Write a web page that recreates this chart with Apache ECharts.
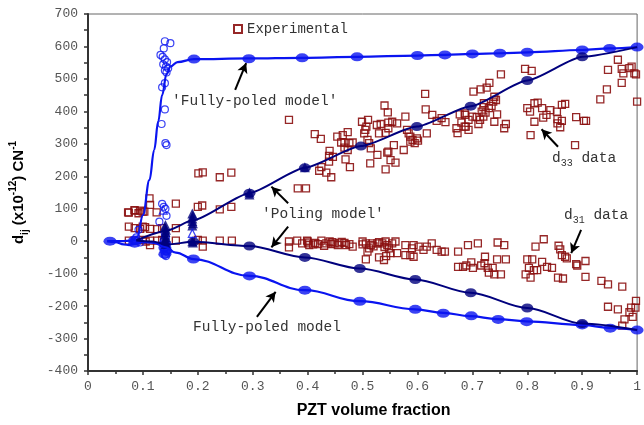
<!DOCTYPE html>
<html>
<head>
<meta charset="utf-8">
<script src="https://cdn.jsdelivr.net/npm/echarts@6/dist/echarts.min.js"></script>
<style>html,body{margin:0;padding:0;background:#fff;}#c{width:644px;height:425px;}</style>
</head>
<body>
<div id="c"></div>
<script>
// ---------- DATA ----------
// Experimental points [PZT volume fraction, d_ij]
const expLow = [[.073,89],[.085,94],[.092,86],[.0996,91],[.1026,91],[.0947,94],[.0847,96],[.0744,88],[.112,132],[.113,112],[.125,89],[.16,116],[.2,106],[.208,110],[.24,98],[.261,106],[.201,209],[.209,212],[.24,197],[.261,211],
[.0744,45],[.085,40],[.0996,45],[.095,38],[.104,43],[.113,38],[.126,37],[.135,40],[.16,40],
[.0744,2],[.085,2],[.0996,4],[.113,2],[.105,-1],[.113,-12],[.126,2],[.135,4],[.16,2],[.2,4],[.209,2],[.209,-17],[.24,2],[.262,2],[.366,-1],[.366,-19],[.381,2],[.399,2],[.401,-7],[.382,163],[.397,163],[.366,374]];
const expD33 = [[.614,454],[.54,418],[.546,397],[.615,406],[.627,389],[.635,371],[.644,379],[.651,367],[.677,391],[.686,394],[.671,348],[.673,333],[.68,365],[.688,353],
[.413,330],[.424,315],[.454,322],[.464,327],[.473,336],[.461,304],[.467,304],[.476,302],[.482,304],[.467,288],[.473,281],
[.44,278],[.439,263],[.425,228],[.421,217],[.434,211],[.443,197],[.439,245],[.469,252],[.477,228],[.446,260],
[.499,368],[.51,374],[.507,353],[.505,343],[.503,332],[.509,312],[.512,302],
[.526,358],[.533,361],[.547,365],[.554,368],[.563,363],[.53,332],[.542,334],[.547,348],
[.515,286],[.527,266],[.545,273],[.547,276],[.551,250],[.56,242],[.542,221],[.514,240],
[.557,296],[.575,281],
[.578,384],[.581,343],[.584,332],[.587,322],[.591,312],[.599,317],[.595,302],[.587,307],[.601,310],[.617,332],
[.752,514],[.796,531],[.808,525],[.731,488],[.726,473],[.715,468],[.702,461],
[.74,445],[.743,435],[.738,430],[.735,417],[.73,410],[.721,425],[.72,413],[.717,399],[.724,396],[.72,384],[.714,374],[.711,361],[.708,382],[.7,384],[.693,374],[.687,389],[.686,353],[.693,343],[.74,368],[.745,391],[.761,361],[.758,348],
[.80,410],[.805,399],[.813,425],[.819,427],[.827,410],[.842,404],[.854,399],[.835,389],[.829,381],[.813,368],[.806,327],[.863,420],[.869,423],[.855,376],[.863,371],[.855,363],[.86,351],[.889,382],[.903,371],[.907,371],[.887,296],
[.933,437],[.945,468],[.947,528],[.965,559],[.972,531],[.975,517],[.972,488],[.986,533],[.99,538],[.995,517],[.998,514],[1.0,430]];
const expD31 = [[.39,-7],[.40,-1],[.403,-12],[.414,-5],[.419,-9],[.425,2],[.434,-7],[.44,-1],[.443,-9],[.449,-7],[.458,-7],[.467,-5],[.47,-12],[.476,-9],[.482,-17],[.41,-10],[.43,-14],[.445,-3],[.455,-12],[.462,-2],
[.50,-1],[.506,-7],[.515,-12],[.512,-22],[.509,-32],[.518,-7],[.527,-7],[.536,-7],[.542,-1],[.545,-12],[.548,-22],[.554,-7],[.56,-1],[.563,-37],[.551,-37],[.543,-46],[.53,-50],[.539,-58],[.506,-56],[.52,-16],[.53,-3],[.54,-18],[.5,-10],
[.578,-12],[.593,-12],[.59,-22],[.578,-43],[.587,-43],[.593,-48],[.602,-17],[.611,-27],[.617,-17],[.626,-7],[.635,-27],[.644,-32],[.65,-32],[.674,-32],[.692,-12],[.71,-7],
[.698,-65],[.674,-79],[.683,-79],[.689,-75],[.701,-82],[.716,-75],[.723,-48],[.722,-68],[.728,-82],[.737,-82],[.745,-56],[.746,-4],[.758,-12],[.761,-56],[.73,-97],[.74,-102],[.752,-102],
[.80,-56],[.809,-56],[.803,-82],[.812,-89],[.818,-89],[.827,-64],[.836,-79],[.845,-82],[.797,-102],[.806,-112],[.815,-17],[.83,6],[.857,-14],[.86,-25],[.863,-43],[.869,-48],[.872,-53],[.856,-112],[.865,-115],
[.889,-71],[.891,-75],[.906,-61],[.906,-110],[.935,-122],[.947,-133],[.973,-140],[.998,-184],[.997,-205],[.989,-205],[.947,-202],[.965,-210],[.986,-219],[.992,-233],[.977,-241],[.973,-260]];

// Fully-poled model (blue)
const fpD33Curve = [[.035,0],[.06,0],[.08,2],[.09,15],[.1,80],[.112,189],[.1205,281],[.128,370],[.135,450],[.143,515],[.15,538],[.163,552],[.193,561],[.293,563],[.39,565],[.49,568],[.6,572],[.65,574],[.7,577],[.75,579],[.8,582],[.9,589],[.95,594],[1.0,598]];
const fpD31Curve = [[.035,0],[.05,-3],[.065,-10],[.075,-12],[.085,-8],[.1,-3],[.12,-5],[.14,-18],[.16,-35],[.192,-55],[.294,-107],[.395,-151],[.495,-185],[.596,-210],[.647,-221],[.696,-231],[.745,-240],[.798,-247],[.899,-258],[.949,-267],[1.0,-274]];
const fpD33Marks = [[.04,0],[.085,3],[.193,561],[.293,562],[.39,565],[.49,568],[.6,572],[.65,574],[.7,577],[.75,579],[.8,582],[.9,589],[.95,594],[1.0,598]];
const fpD31Marks = [[.085,-6],[.14,-8],[.14,-20],[.142,-30],[.14,-40],[.192,-55],[.294,-107],[.395,-151],[.495,-185],[.596,-210],[.647,-222],[.698,-230],[.747,-241],[.799,-248],[.9,-258],[.951,-268],[1.0,-274]];
const fpCircles = [[.14,616],[.15,610],[.138,594],[.132,574],[.136,568],[.14,560],[.144,552],[.137,545],[.142,538],[.146,533],[.14,526],[.143,520],[.14,487],[.135,474],[.14,406],[.134,361],[.141,302],[.143,296],
[.135,115],[.138,106],[.141,100],[.143,78],[.13,60],[.092,35],[.088,12],[.085,5],[.095,-4],
[.14,22],[.142,12],[.138,2],[.141,-10],[.139,-22],[.143,-32],[.14,-42],[.142,-46]];

// Poling model (navy)
const polD33Curve = [[.088,3],[.144,33],[.192,65],[.294,148],[.395,226],[.497,293],[.599,353],[.697,416],[.8,495],[.9,568],[1.0,598]];
const polD31Curve = [[.088,2],[.117,-1],[.144,-10],[.192,-2],[.294,-15],[.395,-50],[.495,-84],[.596,-118],[.697,-159],[.8,-206],[.9,-254],[1.0,-274]];
const polD33Marks = [[.294,148],[.395,226],[.497,293],[.599,353],[.697,416],[.8,495],[.9,568]];
const polD31Marks = [[.192,-2],[.294,-15],[.395,-50],[.495,-84],[.596,-118],[.697,-159],[.8,-206],[.9,-254]];
const polTriangles = [[.141,50],[.14,42],[.142,35],[.141,28],[.14,20],[.142,12],[.141,5],[.14,-2],[.142,-8],
[.19,85],[.191,78],[.19,70],[.19,62],[.191,55],[.19,48],[.19,0],[.191,-4],[.294,150],[.294,144],[.395,228]];
const openTriangles = [[.19,24],[.137,96]];

// ---------- CHART ----------
const mono = '"Liberation Mono","DejaVu Sans Mono",monospace';
const sans = '"Liberation Sans",Arial,sans-serif';
const BLUE = '#0a14f0', NAVY = '#00007d', RED = '#8b0f0f';

const chart = echarts.init(document.getElementById('c'), null, {renderer:'canvas'});
const arrows = [
  [[.268,466],[.288,549]],
  [[.3645,117],[.334,168]],
  [[.3645,45],[.334,-19]],
  [[.3076,-233],[.3417,-156]],
  [[.856,291],[.826,345]],
  [[.898,35],[.88,-37]]
];
chart.setOption({
  animation:false,
  backgroundColor:'#fff',
  grid:{left:84,right:2,top:14,bottom:54,show:true,borderColor:'#666',borderWidth:1},
  legend:{
    data:['Experimental'],left:228,top:17,itemWidth:8,itemHeight:8,itemGap:4,
    textStyle:{fontFamily:mono,fontSize:14,color:'#333'}
  },
  xAxis:{
    type:'value',min:0,max:1,interval:0.1,
    name:'PZT volume fraction',nameLocation:'middle',nameGap:32,
    nameTextStyle:{fontFamily:sans,fontWeight:'bold',fontSize:16,color:'#000',padding:[0,0,0,22]},
    axisLine:{onZero:false,lineStyle:{color:'#333',width:2}},
    axisTick:{show:true,length:4,lineStyle:{color:'#333',width:1.5}},
    minorTick:{show:true,splitNumber:2,length:3,lineStyle:{color:'#333',width:1.5}},
    axisLabel:{fontFamily:mono,fontSize:13,color:'#555',margin:9},
    splitLine:{show:false}
  },
  yAxis:{
    type:'value',min:-400,max:700,interval:100,
    name:'{b|d}{sb|ij}{b| (x10}{sp|-12}{b|) CN}{sp|-1}',nameLocation:'middle',nameGap:58,nameRotate:90,
    nameTextStyle:{rich:{
      b:{fontFamily:sans,fontWeight:'bold',fontSize:15,color:'#000',lineHeight:22,verticalAlign:'middle'},
      sb:{fontFamily:sans,fontWeight:'bold',fontSize:10,color:'#000',lineHeight:22,verticalAlign:'bottom'},
      sp:{fontFamily:sans,fontWeight:'bold',fontSize:10,color:'#000',lineHeight:22,verticalAlign:'top'}
    }},
    axisLine:{show:true,onZero:false,lineStyle:{color:'#333',width:2}},
    axisTick:{show:true,length:4,lineStyle:{color:'#333',width:1.5}},
    minorTick:{show:true,splitNumber:2,length:4,lineStyle:{color:'#333',width:1.5}},
    axisLabel:{fontFamily:mono,fontSize:13,color:'#555',margin:10},
    splitLine:{show:false}
  },
  series:[
    {name:'Experimental',type:'scatter',symbol:'rect',symbolSize:7,
     data:expLow.concat(expD33,expD31),
     itemStyle:{color:'rgba(0,0,0,0)',borderColor:RED,borderWidth:1.3,opacity:0.9},
     markLine:{silent:true,symbol:['none','arrow'],symbolSize:[8,10],label:{show:false},
       lineStyle:{color:'#000',width:2,type:'solid'},
       data:arrows.map(a=>[{coord:a[0]},{coord:a[1]}])}
    },
    {name:'fpCircles',type:'scatter',symbol:'circle',symbolSize:7,data:fpCircles,
     itemStyle:{color:'rgba(0,0,0,0)',borderColor:BLUE,borderWidth:1.2}},
    {name:'fpD33',type:'line',data:fpD33Curve,showSymbol:false,smooth:0.4,smoothMonotone:'x',
     lineStyle:{color:BLUE,width:2.2}},
    {name:'fpD31',type:'line',data:fpD31Curve,showSymbol:false,smooth:0.4,smoothMonotone:'x',
     lineStyle:{color:BLUE,width:2.2}},
    {name:'polD33',type:'line',data:polD33Curve,showSymbol:false,smooth:0.2,smoothMonotone:'x',
     lineStyle:{color:NAVY,width:2}},
    {name:'polD31',type:'line',data:polD31Curve,showSymbol:false,smooth:0.3,smoothMonotone:'x',
     lineStyle:{color:NAVY,width:2}},
    {name:'fpD33m',type:'scatter',symbol:'circle',symbolSize:[13,9],data:fpD33Marks,itemStyle:{color:BLUE}},
    {name:'fpD31m',type:'scatter',symbol:'circle',symbolSize:[13,9],data:fpD31Marks,itemStyle:{color:BLUE}},
    {name:'polD33m',type:'scatter',symbol:'circle',symbolSize:[12,9],data:polD33Marks,itemStyle:{color:NAVY}},
    {name:'polD31m',type:'scatter',symbol:'circle',symbolSize:[12,9],data:polD31Marks,itemStyle:{color:NAVY}},
    {name:'polTri',type:'scatter',symbol:'triangle',symbolSize:10,data:polTriangles,itemStyle:{color:NAVY}},
    {name:'openTri',type:'scatter',symbol:'triangle',symbolSize:8,data:openTriangles,
     itemStyle:{color:'rgba(0,0,0,0)',borderColor:BLUE,borderWidth:1.2}}
  ],
  graphic:[
    {type:'text',x:172,y:101,style:{text:"'Fully-poled model'",font:'14.5px '+mono,fill:'#333',textAlign:'left',textVerticalAlign:'middle'}},
    {type:'text',x:262,y:214,style:{text:"'Poling model'",font:'14.5px '+mono,fill:'#333',textAlign:'left',textVerticalAlign:'middle'}},
    {type:'text',x:193,y:327,style:{text:"Fully-poled model",font:'14.5px '+mono,fill:'#333',textAlign:'left',textVerticalAlign:'middle'}},
    {type:'text',x:552,y:158,style:{text:'{n|d}{s|33}{n| data}',textAlign:'left',textVerticalAlign:'middle',
      rich:{n:{fontFamily:mono,fontSize:14.5,fill:'#333',color:'#333',lineHeight:20,verticalAlign:'middle'},
            s:{fontFamily:mono,fontSize:10,fill:'#333',color:'#333',lineHeight:20,verticalAlign:'bottom'}}}},
    {type:'text',x:564,y:215,style:{text:'{n|d}{s|31}{n| data}',textAlign:'left',textVerticalAlign:'middle',
      rich:{n:{fontFamily:mono,fontSize:14.5,fill:'#333',color:'#333',lineHeight:20,verticalAlign:'middle'},
            s:{fontFamily:mono,fontSize:10,fill:'#333',color:'#333',lineHeight:20,verticalAlign:'bottom'}}}}
  ]
});
</script>
</body>
</html>
